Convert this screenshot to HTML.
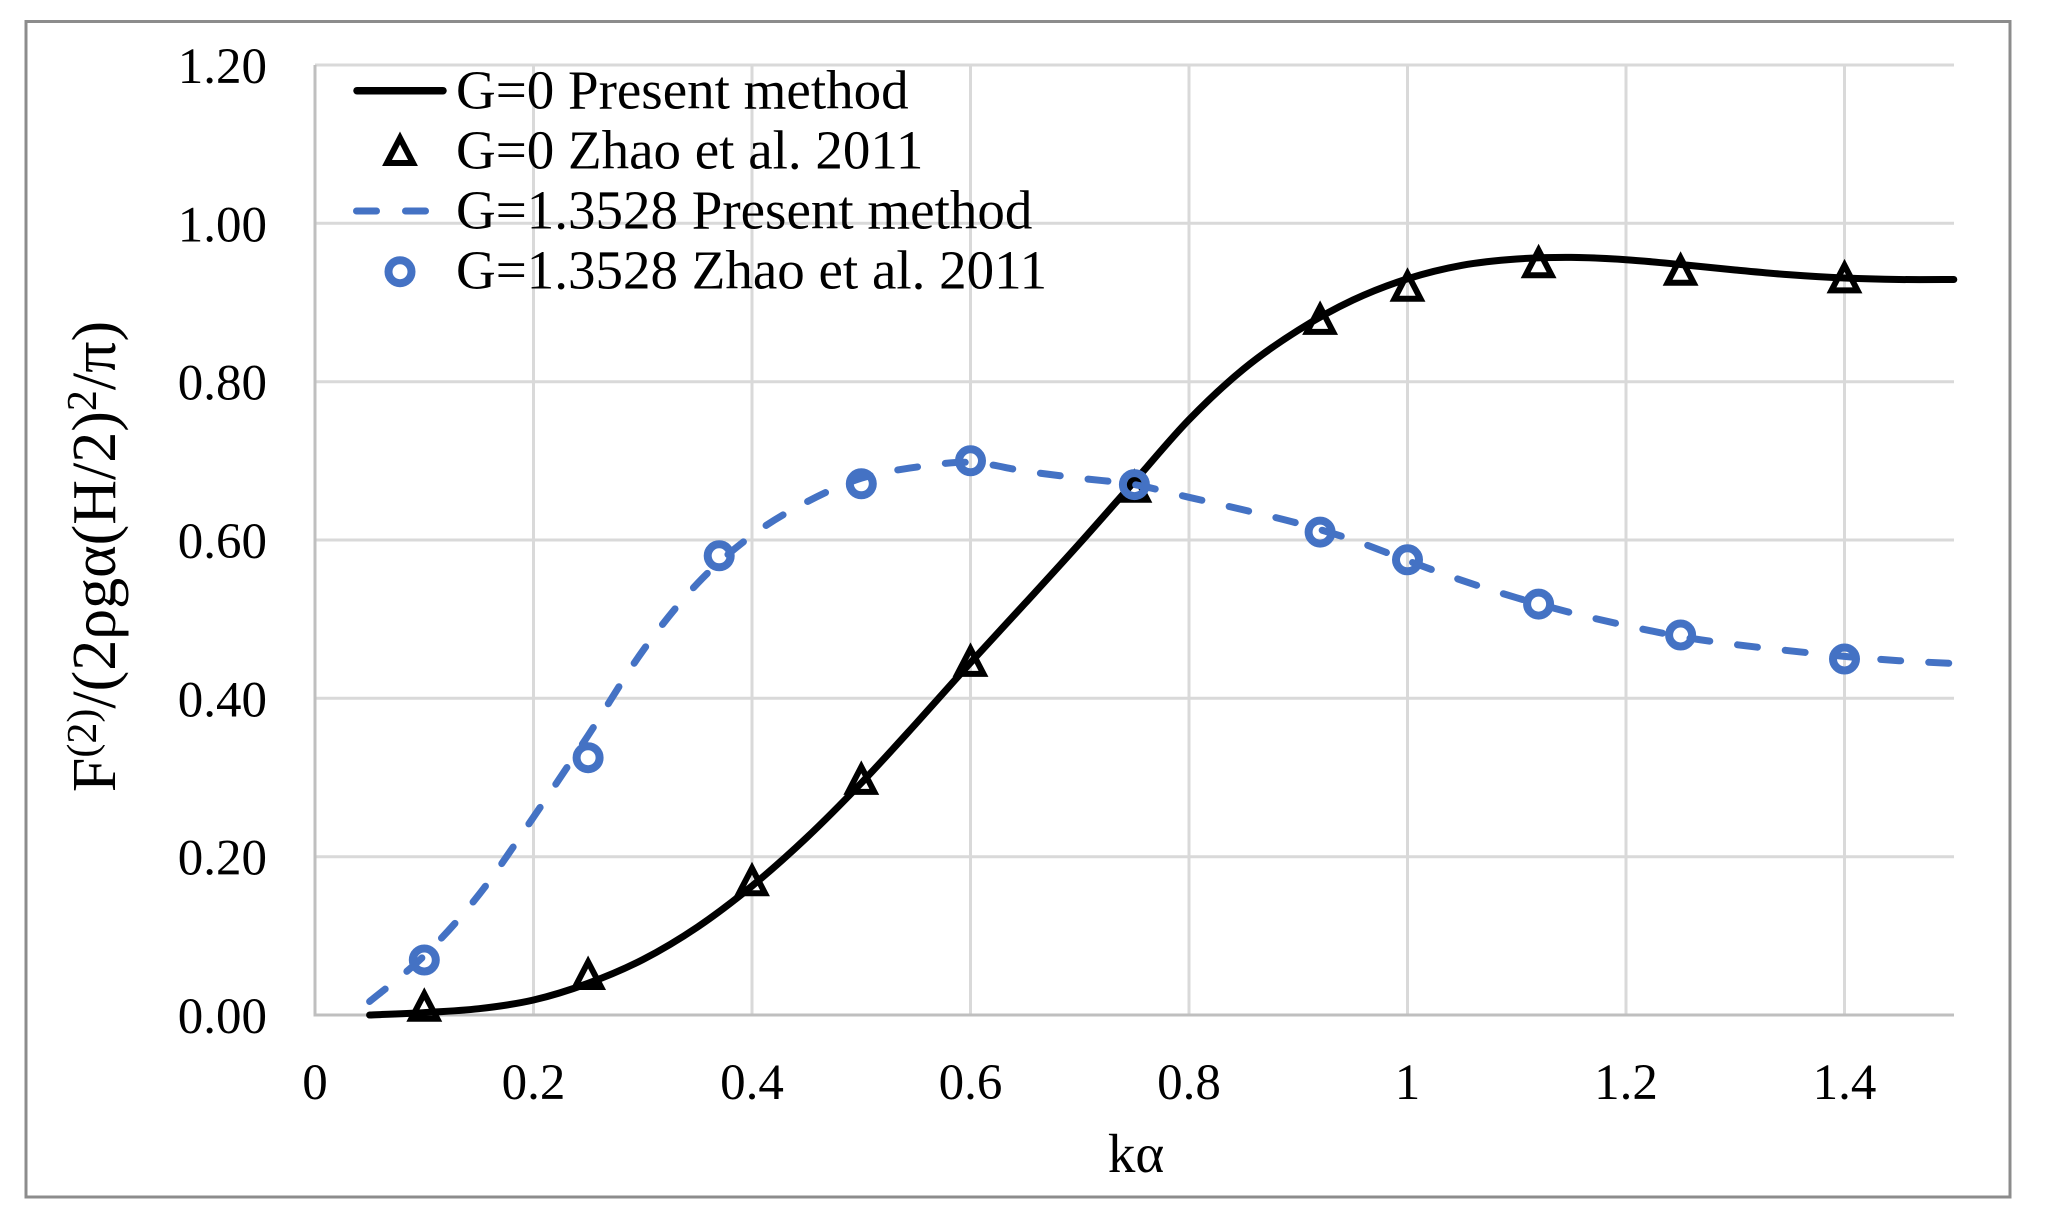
<!DOCTYPE html>
<html>
<head>
<meta charset="utf-8">
<style>
  html, body { margin: 0; padding: 0; background: #ffffff; }
  svg { display: block; }
  text { font-family: "Liberation Serif", "Times New Roman", serif; fill: #000; }
</style>
</head>
<body>
<svg id="chart" width="2045" height="1225" viewBox="0 0 2045 1225" xmlns="http://www.w3.org/2000/svg">
  <rect x="0" y="0" width="2045" height="1225" fill="#ffffff"/>
  <!-- outer chart border -->
  <rect x="26" y="21.5" width="1984" height="1175.5" fill="none" stroke="#8c8c8c" stroke-width="3"/>

  <!-- gridlines -->
  <g stroke="#d9d9d9" stroke-width="3">
    <line x1="315" y1="65" x2="1954" y2="65"/>
    <line x1="315" y1="223.3" x2="1954" y2="223.3"/>
    <line x1="315" y1="381.7" x2="1954" y2="381.7"/>
    <line x1="315" y1="540" x2="1954" y2="540"/>
    <line x1="315" y1="698.3" x2="1954" y2="698.3"/>
    <line x1="315" y1="856.7" x2="1954" y2="856.7"/>
    <line x1="533.5" y1="65" x2="533.5" y2="1015"/>
    <line x1="752" y1="65" x2="752" y2="1015"/>
    <line x1="970.5" y1="65" x2="970.5" y2="1015"/>
    <line x1="1189" y1="65" x2="1189" y2="1015"/>
    <line x1="1407.5" y1="65" x2="1407.5" y2="1015"/>
    <line x1="1626" y1="65" x2="1626" y2="1015"/>
    <line x1="1844.5" y1="65" x2="1844.5" y2="1015"/>
  </g>
  <!-- axes -->
  <g stroke="#bfbfbf" stroke-width="3">
    <line x1="315" y1="65" x2="315" y2="1016.5"/>
    <line x1="313.5" y1="1015" x2="1954" y2="1015"/>
  </g>

  <!-- Y tick labels -->
  <g font-size="51" text-anchor="end">
    <text x="267" y="83">1.20</text>
    <text x="267" y="241.3">1.00</text>
    <text x="267" y="399.7">0.80</text>
    <text x="267" y="558">0.60</text>
    <text x="267" y="716.3">0.40</text>
    <text x="267" y="874.7">0.20</text>
    <text x="267" y="1033">0.00</text>
  </g>
  <!-- X tick labels -->
  <g font-size="51" text-anchor="middle">
    <text x="315" y="1099">0</text>
    <text x="533.5" y="1099">0.2</text>
    <text x="752" y="1099">0.4</text>
    <text x="970.5" y="1099">0.6</text>
    <text x="1189" y="1099">0.8</text>
    <text x="1407.5" y="1099">1</text>
    <text x="1626" y="1099">1.2</text>
    <text x="1844.5" y="1099">1.4</text>
  </g>

  <!-- axis titles -->
  <text x="1136" y="1172" font-size="55" text-anchor="middle">kα</text>
  <text transform="translate(115,556.5) rotate(-90)" x="0" y="0" font-size="62" text-anchor="middle">F<tspan font-size="42" dy="-19">(2)</tspan><tspan dy="19">/(2ρgα(H/2)</tspan><tspan font-size="42" dy="-19">2</tspan><tspan dy="19">/π)</tspan></text>

  <!-- G=0 Present method (black solid) -->
  <polyline id="blackLine" fill="none" stroke="#000000" stroke-width="7" stroke-linecap="round" stroke-linejoin="round"
    points="369.6,1015 424.3,1012.6 478.9,1008.7 533.5,1000 588.1,983.3 642.8,959.6 697.4,927.1 752,886 806.6,837.7 861.3,783 915.9,723.7 970.5,662.7 1025.1,603.3 1079.8,543.2 1134.4,481.4 1189,419.7 1243.6,369 1298.3,330.2 1352.9,300.1 1407.5,278.8 1462.1,265.3 1516.8,259 1571.4,257.4 1626,259.7 1680.6,264.5 1735.3,270 1789.9,274.8 1844.5,278 1899.1,279.5 1953.8,279.5"/>

  <!-- G=0 Zhao triangles -->
  <g fill="none" stroke="#000000" stroke-width="6" stroke-linejoin="miter">
    <path d="M424.3,993.7 L411.3,1018.7 L437.3,1018.7 Z"/>
    <path d="M588.1,962 L575.1,987 L601.1,987 Z"/>
    <path d="M752,868.2 L739,893.2 L765,893.2 Z"/>
    <path d="M861.3,766.9 L848.3,791.9 L874.3,791.9 Z"/>
    <path d="M970.5,648.9 L957.5,673.9 L983.5,673.9 Z"/>
    <path d="M1134.4,474.7 L1121.4,499.7 L1147.4,499.7 Z"/>
    <path d="M1320.1,306.9 L1307.1,331.9 L1333.1,331.9 Z"/>
    <path d="M1407.5,273.7 L1394.5,298.7 L1420.5,298.7 Z"/>
    <path d="M1538.6,250.3 L1525.6,275.3 L1551.6,275.3 Z"/>
    <path d="M1680.6,257.8 L1667.6,282.8 L1693.6,282.8 Z"/>
    <path d="M1844.5,265.4 L1831.5,290.4 L1857.5,290.4 Z"/>
  </g>

  <!-- G=1.3528 Present method (blue dashed) -->
  <polyline id="blueLine" fill="none" stroke="#4472c4" stroke-width="7" stroke-linecap="round" stroke-linejoin="round" stroke-dasharray="20 28"
    points="369.6,1001.5 424.3,955.6 478.9,894.7 533.5,817.1 588.1,735.5 642.8,650.8 697.4,583.5 752,535.3 806.6,502 861.3,478.2 915.9,467.2 970.5,462.4 1025.1,471.1 1079.8,478.2 1134.4,484.6 1189,497.3 1243.6,509.9 1298.3,523.4 1352.9,540 1407.5,560.6 1462.1,580.4 1516.8,597.8 1571.4,612.8 1626,625.5 1680.6,636.6 1735.3,644.5 1789.9,650.8 1844.5,656.4 1899.1,660.7 1953.8,663.5"/>

  <!-- G=1.3528 Zhao circles -->
  <g fill="none" stroke="#4472c4" stroke-width="8">
    <circle cx="424.3" cy="960" r="11.5"/>
    <circle cx="588.1" cy="757.7" r="11.5"/>
    <circle cx="719.2" cy="555.8" r="11.5"/>
    <circle cx="861.3" cy="483.8" r="11.5"/>
    <circle cx="970.5" cy="460.8" r="11.5"/>
    <circle cx="1134.4" cy="484.6" r="11.5"/>
    <circle cx="1320.1" cy="532.1" r="11.5"/>
    <circle cx="1407.5" cy="559.8" r="11.5"/>
    <circle cx="1538.6" cy="604.1" r="11.5"/>
    <circle cx="1680.6" cy="635" r="11.5"/>
    <circle cx="1844.5" cy="659" r="11.5"/>
  </g>

  <!-- Legend -->
  <line x1="357" y1="90.7" x2="443" y2="90.7" stroke="#000" stroke-width="7.5" stroke-linecap="round"/>
  <path d="M400,138 L387,163 L413,163 Z" fill="none" stroke="#000" stroke-width="6"/>
  <line x1="356.5" y1="211" x2="376.5" y2="211" stroke="#4472c4" stroke-width="7" stroke-linecap="round"/>
  <line x1="405.5" y1="211" x2="425.5" y2="211" stroke="#4472c4" stroke-width="7" stroke-linecap="round"/>
  <circle cx="400" cy="271.7" r="11.5" fill="none" stroke="#4472c4" stroke-width="8"/>
  <g font-size="55">
    <text x="456" y="108.5">G=0 Present method</text>
    <text x="456" y="168.5">G=0 Zhao et al. 2011</text>
    <text x="456" y="228.5">G=1.3528 Present method</text>
    <text x="456" y="288.5">G=1.3528 Zhao et al. 2011</text>
  </g>
</svg>
<script>
(function(){
  function smooth(id){
    var pl = document.getElementById(id);
    if(!pl) return;
    var pts = pl.getAttribute('points').trim().split(/\s+/).map(function(s){return s.split(',').map(Number);});
    var d = 'M' + pts[0][0] + ',' + pts[0][1];
    for (var i = 0; i < pts.length - 1; i++) {
      var p0 = pts[Math.max(0, i-1)], p1 = pts[i], p2 = pts[i+1], p3 = pts[Math.min(pts.length-1, i+2)];
      var c1x = p1[0] + (p2[0]-p0[0])/6, c1y = p1[1] + (p2[1]-p0[1])/6;
      var c2x = p2[0] - (p3[0]-p1[0])/6, c2y = p2[1] - (p3[1]-p1[1])/6;
      d += ' C' + c1x.toFixed(2) + ',' + c1y.toFixed(2) + ' ' + c2x.toFixed(2) + ',' + c2y.toFixed(2) + ' ' + p2[0] + ',' + p2[1];
    }
    var p = document.createElementNS('http://www.w3.org/2000/svg', 'path');
    p.setAttribute('d', d);
    ['stroke','stroke-width','stroke-dasharray','stroke-linecap','stroke-linejoin','fill'].forEach(function(a){
      if (pl.hasAttribute(a)) p.setAttribute(a, pl.getAttribute(a));
    });
    pl.parentNode.replaceChild(p, pl);
  }
  smooth('blackLine');
  smooth('blueLine');
})();
</script>
</body>
</html>
